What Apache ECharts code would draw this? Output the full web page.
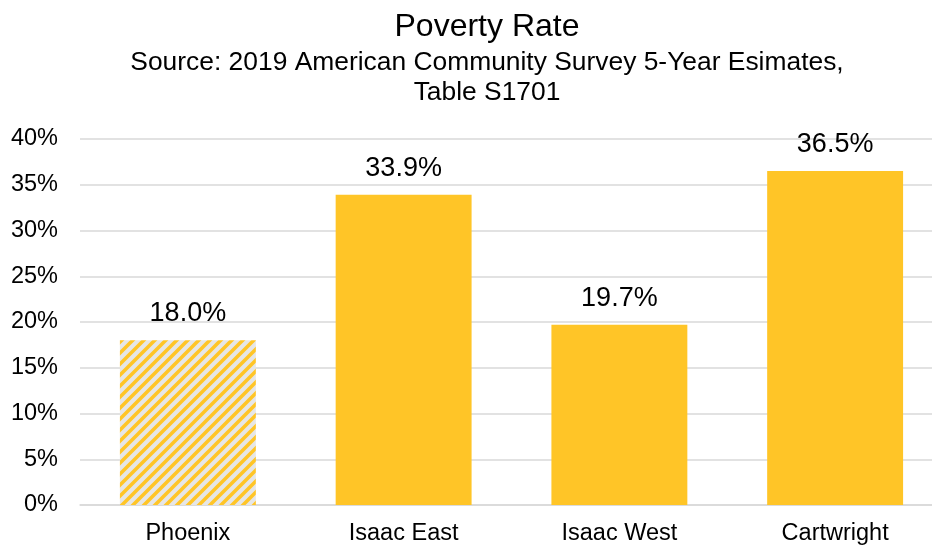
<!DOCTYPE html>
<html>
<head>
<meta charset="utf-8">
<script src="https://cdn.jsdelivr.net/npm/echarts@6/dist/echarts.min.js"></script>
<style>
html,body{margin:0;padding:0;background:#fff;}
#chart{width:932px;height:546px;}
</style>
</head>
<body>
<div id="chart"></div>
<script>
const categories = ['Phoenix', 'Isaac East', 'Isaac West', 'Cartwright'];
const povertyRate = [18.0, 33.9, 19.7, 36.5];
const yTicks = { min: 0, max: 40, interval: 5 };
const titleText = 'Poverty Rate';
const subtitleLines = ['Source: 2019 American Community Survey 5-Year Esimates,', 'Table S1701'];

const YELLOW = '#FFC527';
const FONT = "'Liberation Sans', Arial, sans-serif";

function stripePattern() {
  const s = 11;
  const c = document.createElement('canvas');
  c.width = s; c.height = s;
  const g = c.getContext('2d');
  g.fillStyle = '#E6E6E6';
  g.fillRect(0, 0, s, s);
  g.strokeStyle = YELLOW;
  g.lineWidth = 3.6;
  g.beginPath();
  g.moveTo(-2, s + 2); g.lineTo(s + 2, -2);
  g.moveTo(-2, 2); g.lineTo(2, -2);
  g.moveTo(s - 2, s + 2); g.lineTo(s + 2, s - 2);
  g.stroke();
  return { image: c, repeat: 'repeat' };
}

const chart = echarts.init(document.getElementById('chart'));
const pattern = stripePattern();

const subStyle = { fontFamily: FONT, fontSize: 26.4, fontWeight: 'normal', color: '#000', lineHeight: 30 };
const TITLE_X = 482;

chart.setOption({
  animation: false,
  backgroundColor: '#fff',
  title: [
    {
      text: titleText, left: TITLE_X, textAlign: 'center', top: 5,
      textStyle: { fontFamily: FONT, fontSize: 32, fontWeight: 'normal', color: '#000', lineHeight: 34 }
    },
    { text: subtitleLines[0], left: TITLE_X, textAlign: 'center', top: 43, textStyle: subStyle },
    { text: subtitleLines[1], left: TITLE_X, textAlign: 'center', top: 73, textStyle: subStyle }
  ],
  grid: { left: 80, top: 139, bottom: 41, width: 863, containLabel: false, outerBoundsMode: 'none' },
  xAxis: {
    type: 'category',
    data: categories,
    axisLine: { lineStyle: { color: '#D9D9D9', width: 1.5 } },
    axisTick: { show: false },
    axisLabel: { fontFamily: FONT, fontSize: 23.5, color: '#000', margin: 17 }
  },
  yAxis: {
    type: 'value',
    min: yTicks.min, max: yTicks.max, interval: yTicks.interval,
    axisLine: { show: false },
    axisTick: { show: false },
    axisLabel: { fontFamily: FONT, fontSize: 23.5, color: '#000', margin: 22, formatter: '{value}%' },
    splitLine: { lineStyle: { color: '#D9D9D9', width: 1.5 } }
  },
  series: [{
    type: 'bar',
    data: povertyRate.map((v, i) => ({
      value: v,
      itemStyle: { color: i === 0 ? pattern : YELLOW }
    })),
    barCategoryGap: '37%',
    label: {
      show: true, position: 'top', distance: 13,
      fontFamily: FONT, fontSize: 27, color: '#000',
      formatter: p => p.value.toFixed(1) + '%'
    }
  }]
});
</script>
</body>
</html>
